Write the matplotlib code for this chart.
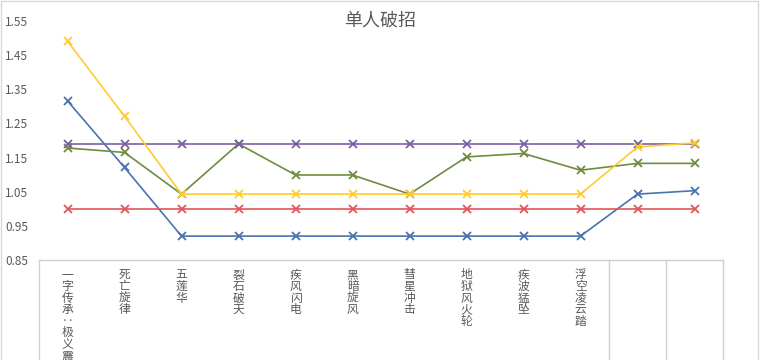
import matplotlib
matplotlib.use("Agg")
import matplotlib.pyplot as plt

plt.rcParams['font.family'] = ['Noto Sans CJK SC', 'DejaVu Sans']

# categories (last two are blank in the source)
categories = ["一字传承‥极义震", "死亡旋律", "五莲华", "裂石破天", "疾风闪电", "黑暗旋风",
              "彗星冲击", "地狱风火轮", "疾波猛坠", "浮空凌云踏", "", ""]

blue = [1.316, 1.121, 0.92, 0.92, 0.92, 0.92, 0.92, 0.92, 0.92, 0.92, 1.043, 1.053]
red = [1.0] * 12
green = [1.178, 1.165, 1.043, 1.19, 1.099, 1.099, 1.043, 1.152, 1.162, 1.113, 1.133, 1.133]
purple = [1.19] * 12
yellow = [1.491, 1.271, 1.043, 1.043, 1.043, 1.043, 1.043, 1.043, 1.043, 1.043, 1.181, 1.193]

y_ticks = [0.85, 0.95, 1.05, 1.15, 1.25, 1.35, 1.45, 1.55]

fig = plt.figure(figsize=(7.6, 3.6), dpi=100)
ax = fig.add_axes([39 / 760, 1 - 260 / 360, 684 / 760, 239 / 360])

x = list(range(len(categories)))
series = [(blue, "#4a72b0"), (red, "#e2555a"), (green, "#6f8c3e"),
          (purple, "#7b5fa3"), (yellow, "#ffcb30")]
for vals, col in series:
    ax.plot(x, vals, color=col, lw=1.2, marker="x", ms=6, mew=1.3)

ax.set_xlim(-0.5, len(categories) - 0.5)
ax.set_ylim(0.85, 1.55)
ax.set_yticks(y_ticks)
ax.set_yticklabels([f"{t:.2f}" for t in y_ticks], fontsize=8.5, color="#595959")
ax.tick_params(axis="y", length=0, pad=8)
ax.tick_params(axis="x", length=0, labelbottom=False)
for s in ["top", "right", "left"]:
    ax.spines[s].set_visible(False)
ax.spines["bottom"].set_color("#d0d0d0")
ax.spines["bottom"].set_linewidth(1)

# stacked vertical category labels
for i, lab in enumerate(categories):
    if lab:
        ax.annotate("\n".join(lab), xy=(i, 0.85), xycoords="data",
                    xytext=(0, -6), textcoords="offset points",
                    ha="center", va="top", fontsize=8.5, color="#595959",
                    linespacing=0.86, annotation_clip=False)

# separator lines of the category area
for xb in [-0.5, 9.5, 10.5, 11.5]:
    ax.plot([xb, xb], [0.85, 0.45], color="#d0d0d0", lw=1, clip_on=False)

fig.text(0.5, 1 - 21 / 360, "单人破招", ha="center", va="center",
         fontsize=13, color="#595959")

# light chart border
fig.patches.append(plt.Rectangle((0.001, -0.1), 0.997, 1.097, transform=fig.transFigure,
                                 fill=False, edgecolor="#d9d9d9", lw=1))

fig.savefig("out.png", dpi=100)
